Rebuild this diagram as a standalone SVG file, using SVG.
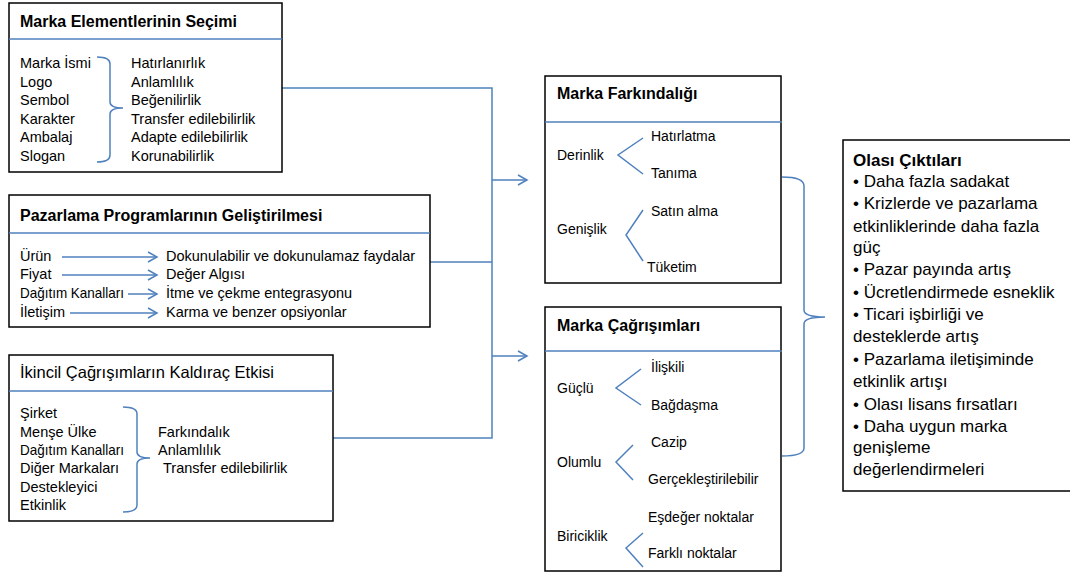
<svg xmlns="http://www.w3.org/2000/svg" width="1070" height="576" viewBox="0 0 1070 576">
  <defs>
    <style>
      .box { fill: #fff; stroke: #000; stroke-width: 1.5; }
      .div { stroke: #4F81BD; stroke-width: 1.5; fill: none; }
      .blue { stroke: #4F81BD; stroke-width: 1.5; fill: none; }
      text { font-family: "Liberation Sans", Arial, sans-serif; fill: #000; }
      .t { font-size: 16px; font-weight: bold; }
      .tr { font-size: 16.5px; }
      .b { font-size: 14.5px; }
      .s { font-size: 14px; }
      .o { font-size: 17px; }
    </style>
    <marker id="arr" markerWidth="12" markerHeight="12" refX="10" refY="6" orient="auto" markerUnits="userSpaceOnUse">
      <path d="M1,1 L10,6 L1,11" fill="none" stroke="#4F81BD" stroke-width="1.5"/>
    </marker>
  </defs>

  <rect width="1070" height="576" fill="#fff"/>

  <!-- connectors -->
  <g id="connectors">
    <path class="blue" d="M282,88 H492 V438 H333"/>
    <path class="blue" d="M430,262 H492"/>
    <path class="blue" d="M492,180 H527" marker-end="url(#arr)"/>
    <path class="blue" d="M492,356 H527" marker-end="url(#arr)"/>
    <!-- brace gathering the two outcome boxes -->
    <path class="blue" d="M782,177 Q804,177 804,186 V310 Q804,317 825,317 Q804,317 804,324 V448 Q804,456 782,456"/>
  </g>

  <!-- Marka Elementlerinin Seçimi -->
  <g id="marka-elementleri">
    <rect class="box" x="9" y="3" width="273" height="169"/>
    <line class="div" x1="9" y1="39" x2="282" y2="39"/>
    <text class="t" x="20" y="27">Marka Elementlerinin Seçimi</text>
    <text class="b" x="20" y="68">Marka İsmi</text>
    <text class="b" x="20" y="87">Logo</text>
    <text class="b" x="20" y="105">Sembol</text>
    <text class="b" x="20" y="124">Karakter</text>
    <text class="b" x="20" y="142">Ambalaj</text>
    <text class="b" x="20" y="161">Slogan</text>
    <path class="blue" d="M97,57 Q110,57 110,64 V102 Q110,108 123,108 Q110,108 110,114 V155 Q110,162 97,162"/>
    <text class="b" x="131" y="68">Hatırlanırlık</text>
    <text class="b" x="131" y="87">Anlamlılık</text>
    <text class="b" x="131" y="105">Beğenilirlik</text>
    <text class="b" x="131" y="124">Transfer edilebilirlik</text>
    <text class="b" x="131" y="142">Adapte edilebilirlik</text>
    <text class="b" x="131" y="161">Korunabilirlik</text>
  </g>

  <!-- Pazarlama Programlarının Geliştirilmesi -->
  <g id="pazarlama-programlari">
    <rect class="box" x="9" y="195" width="421" height="132"/>
    <line class="div" x1="9" y1="233" x2="430" y2="233"/>
    <text class="t" x="20" y="221">Pazarlama Programlarının  Geliştirilmesi</text>
    <text class="b" x="20" y="261">Ürün</text>
    <text class="b" x="20" y="279">Fiyat</text>
    <text class="b" x="20" y="298" textLength="104" lengthAdjust="spacingAndGlyphs">Dağıtım Kanalları</text>
    <text class="b" x="20" y="317">İletişim</text>
    <path class="blue" d="M62,257 H157" marker-end="url(#arr)"/>
    <path class="blue" d="M62,275 H157" marker-end="url(#arr)"/>
    <path class="blue" d="M128,294 H157" marker-end="url(#arr)"/>
    <path class="blue" d="M70,313 H157" marker-end="url(#arr)"/>
    <text class="b" x="166" y="261">Dokunulabilir ve dokunulamaz faydalar</text>
    <text class="b" x="166" y="279">Değer Algısı</text>
    <text class="b" x="166" y="298">İtme ve çekme entegrasyonu</text>
    <text class="b" x="166" y="317">Karma ve benzer opsiyonlar</text>
  </g>

  <!-- İkincil Çağrışımların Kaldıraç Etkisi -->
  <g id="ikincil-cagrisimlar">
    <rect class="box" x="9" y="355" width="324" height="166"/>
    <line class="div" x1="9" y1="391" x2="333" y2="391"/>
    <text class="tr" x="20" y="378">İkincil Çağrışımların Kaldıraç Etkisi</text>
    <text class="b" x="20" y="418">Şirket</text>
    <text class="b" x="20" y="437">Menşe Ülke</text>
    <text class="b" x="20" y="455" textLength="104" lengthAdjust="spacingAndGlyphs">Dağıtım Kanalları</text>
    <text class="b" x="20" y="473">Diğer Markaları</text>
    <text class="b" x="20" y="492">Destekleyici</text>
    <text class="b" x="20" y="510">Etkinlik</text>
    <path class="blue" d="M123,407 Q137,407 137,414 V452 Q137,458 150,458 Q137,458 137,464 V505 Q137,512 123,512"/>
    <text class="b" x="158" y="437">Farkındalık</text>
    <text class="b" x="158" y="455">Anlamlılık</text>
    <text class="b" x="163" y="473">Transfer edilebilirlik</text>
  </g>

  <!-- Marka Farkındalığı -->
  <g id="marka-farkindaligi">
    <rect class="box" x="545" y="76" width="236" height="207"/>
    <line class="div" x1="545" y1="122" x2="782" y2="122"/>
    <text class="t" x="557" y="99">Marka Farkındalığı</text>
    <text class="s" x="557" y="160">Derinlik</text>
    <polyline class="blue" points="643,138 618,155 643,174"/>
    <text class="s" x="651" y="141">Hatırlatma</text>
    <text class="s" x="651" y="178">Tanıma</text>
    <text class="s" x="557" y="234">Genişlik</text>
    <polyline class="blue" points="643,210 626,235 643,261"/>
    <text class="s" x="651" y="216">Satın alma</text>
    <text class="s" x="647" y="272">Tüketim</text>
  </g>

  <!-- Marka Çağrışımları -->
  <g id="marka-cagrisimlari">
    <rect class="box" x="545" y="307" width="236" height="264"/>
    <line class="div" x1="545" y1="351" x2="782" y2="351"/>
    <text class="t" x="557" y="331">Marka Çağrışımları</text>
    <text class="s" x="557" y="393">Güçlü</text>
    <polyline class="blue" points="641,369 616,388 641,405"/>
    <text class="s" x="651" y="372">İlişkili</text>
    <text class="s" x="651" y="410">Bağdaşma</text>
    <text class="s" x="557" y="467">Olumlu</text>
    <polyline class="blue" points="633,445 616,462 633,480"/>
    <text class="s" x="651" y="447">Cazip</text>
    <text class="s" x="648" y="484">Gerçekleştirilebilir</text>
    <text class="s" x="557" y="541">Biriciklik</text>
    <polyline class="blue" points="643,533 626,548 643,567"/>
    <text class="s" x="648" y="522">Eşdeğer noktalar</text>
    <text class="s" x="648" y="558">Farklı noktalar</text>
  </g>

  <!-- Olası Çıktıları -->
  <g id="olasi-ciktilari">
    <rect class="box" x="843" y="140" width="230" height="351"/>
    <text class="o" x="853" y="166" font-weight="bold">Olası Çıktıları</text>
    <text class="o" x="853" y="187">• Daha fazla sadakat</text>
    <text class="o" x="853" y="209">• Krizlerde ve pazarlama</text>
    <text class="o" x="853" y="232">etkinliklerinde daha fazla</text>
    <text class="o" x="853" y="253">güç</text>
    <text class="o" x="853" y="275">• Pazar payında artış</text>
    <text class="o" x="853" y="298">• Ücretlendirmede esneklik</text>
    <text class="o" x="853" y="320">• Ticari işbirliği ve</text>
    <text class="o" x="853" y="342">desteklerde artış</text>
    <text class="o" x="853" y="365">• Pazarlama iletişiminde</text>
    <text class="o" x="853" y="387">etkinlik artışı</text>
    <text class="o" x="853" y="410">• Olası lisans fırsatları</text>
    <text class="o" x="853" y="432">• Daha uygun marka</text>
    <text class="o" x="853" y="453">genişleme</text>
    <text class="o" x="853" y="475">değerlendirmeleri</text>
  </g>
</svg>
